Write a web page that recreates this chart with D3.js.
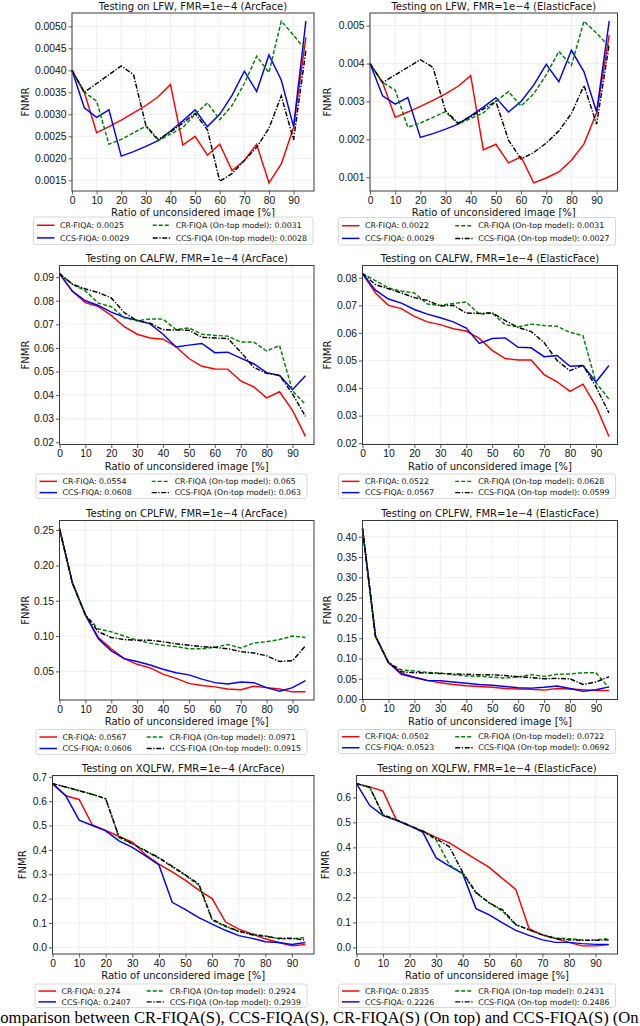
<!DOCTYPE html>
<html lang="en">
<head>
<meta charset="UTF-8">
<title>FNMR vs ratio of unconsidered images</title>
<script src="https://d3js.org/d3.v7.min.js"></script>
<style>
  html, body { margin: 0; padding: 0; background: #fff; overflow: hidden; }
  svg { display: block; font-family: "DejaVu Sans", sans-serif; }
  .grid line { stroke: #ebebeb; stroke-width: 0.8; }
  .frame { fill: none; stroke: #3a3a3a; stroke-width: 1; }
  .tick-label { font-size: 10.3px; fill: #111; }
  .title, .xlabel, .ylabel { font-size: 10px; fill: #111; }
  .legend-box { fill: #fff; fill-opacity: 0.8; stroke: #cfcfcf; stroke-width: 0.8; }
  .legend-text { font-size: 7.8px; fill: #111; }
  .caption { font-family: "Liberation Serif", "Times New Roman", serif; font-size: 16.6px; fill: #000; }
</style>
</head>
<body>
<svg id="chart" width="640" height="1026"></svg>
<script>
// --- data: ratio of unconsidered images [%] ---
const ratios = [0, 5, 10, 15, 20, 25, 30, 35, 40, 45, 50, 55, 60, 65, 70, 75, 80, 85, 90, 95];

// LFW, ArcFace
const lfwArcCR     = [0.0040, 0.0035, 0.00258, 0.00272, 0.00287, 0.00303, 0.0032, 0.0034, 0.00368, 0.0023, 0.0025, 0.00207, 0.00232, 0.00172, 0.00195, 0.00232, 0.00144, 0.00187, 0.0027, 0.00475];
const lfwArcCCS    = [0.0040, 0.00315, 0.00293, 0.0031, 0.00205, 0.00215, 0.00227, 0.0024, 0.00262, 0.00285, 0.0031, 0.00272, 0.0030, 0.00343, 0.00398, 0.00352, 0.00435, 0.00378, 0.00272, 0.00512];
const lfwArcCRTop  = [0.0040, 0.0035, 0.0033, 0.00232, 0.00243, 0.00258, 0.00273, 0.0024, 0.00255, 0.0027, 0.0030, 0.00326, 0.00288, 0.0032, 0.0037, 0.00432, 0.00395, 0.00512, 0.0048, 0.00445];
const lfwArcCCSTop = [0.0040, 0.0035, 0.0037, 0.0039, 0.0041, 0.0039, 0.00275, 0.00243, 0.0026, 0.0028, 0.00302, 0.00265, 0.00148, 0.00165, 0.00195, 0.00225, 0.00268, 0.00342, 0.00242, 0.00445];

// LFW, ElasticFace
const lfwElaCR     = [0.0040, 0.0035, 0.00258, 0.00272, 0.00287, 0.00303, 0.0032, 0.0034, 0.00368, 0.00172, 0.00187, 0.00138, 0.00154, 0.00085, 0.00098, 0.00114, 0.00145, 0.00188, 0.0027, 0.00475];
const lfwElaCCS    = [0.0040, 0.00315, 0.00293, 0.0031, 0.00205, 0.00215, 0.00227, 0.0024, 0.00262, 0.00285, 0.0031, 0.00272, 0.0030, 0.00343, 0.00398, 0.00352, 0.00435, 0.00378, 0.00272, 0.00512];
const lfwElaCRTop  = [0.0040, 0.0035, 0.0033, 0.00232, 0.00243, 0.00258, 0.00273, 0.0024, 0.00255, 0.0027, 0.0030, 0.00326, 0.00288, 0.0032, 0.0037, 0.00432, 0.00395, 0.00512, 0.0048, 0.00445];
const lfwElaCCSTop = [0.0040, 0.0035, 0.0037, 0.0039, 0.0041, 0.0039, 0.00275, 0.00243, 0.0026, 0.0028, 0.0030, 0.00198, 0.00148, 0.00165, 0.0019, 0.00222, 0.00268, 0.00342, 0.0024, 0.0045];

// CALFW, ArcFace
const calfwArcCR     = [0.0915, 0.084, 0.0792, 0.0775, 0.0738, 0.069, 0.0658, 0.0642, 0.0637, 0.0605, 0.0555, 0.0522, 0.0511, 0.051, 0.046, 0.0435, 0.0388, 0.0414, 0.0335, 0.0225];
const calfwArcCCS    = [0.0915, 0.084, 0.080, 0.078, 0.0752, 0.073, 0.0718, 0.0702, 0.0658, 0.0604, 0.0612, 0.0619, 0.058, 0.0582, 0.0557, 0.0533, 0.0495, 0.0483, 0.0423, 0.0482];
const calfwArcCRTop  = [0.0915, 0.087, 0.0842, 0.079, 0.0775, 0.0728, 0.0715, 0.0723, 0.0722, 0.0678, 0.0685, 0.0658, 0.0653, 0.065, 0.0625, 0.0625, 0.0587, 0.061, 0.0418, 0.036];
const calfwArcCCSTop = [0.0915, 0.087, 0.085, 0.0835, 0.0812, 0.075, 0.0715, 0.0705, 0.0677, 0.0676, 0.0675, 0.0645, 0.0642, 0.064, 0.0583, 0.0518, 0.0492, 0.0484, 0.0405, 0.031];

// CALFW, ElasticFace
const calfwElaCR     = [0.0815, 0.0745, 0.070, 0.0688, 0.066, 0.064, 0.063, 0.0615, 0.0607, 0.058, 0.0537, 0.0507, 0.0502, 0.0502, 0.0449, 0.0423, 0.0388, 0.0414, 0.0335, 0.0225];
const calfwElaCCS    = [0.0815, 0.0755, 0.0723, 0.0708, 0.0685, 0.0668, 0.0655, 0.064, 0.0618, 0.0562, 0.058, 0.0582, 0.0548, 0.0546, 0.0514, 0.0518, 0.0479, 0.0482, 0.0422, 0.0482];
const calfwElaCRTop  = [0.0815, 0.079, 0.0763, 0.0752, 0.0745, 0.0705, 0.070, 0.0707, 0.0712, 0.0668, 0.0672, 0.063, 0.0622, 0.0632, 0.0627, 0.0624, 0.0602, 0.059, 0.042, 0.036];
const calfwElaCCSTop = [0.0815, 0.0775, 0.076, 0.0745, 0.0728, 0.0718, 0.0698, 0.070, 0.0672, 0.0671, 0.0673, 0.0645, 0.062, 0.0605, 0.0565, 0.050, 0.0463, 0.0483, 0.0405, 0.031];

// CPLFW, ArcFace
const cplfwArcCR     = [0.252, 0.175, 0.130, 0.098, 0.082, 0.068, 0.060, 0.055, 0.046, 0.040, 0.033, 0.030, 0.028, 0.025, 0.024, 0.029, 0.027, 0.025, 0.021, 0.021];
const cplfwArcCCS    = [0.252, 0.175, 0.130, 0.096, 0.079, 0.068, 0.064, 0.059, 0.053, 0.048, 0.045, 0.039, 0.034, 0.032, 0.035, 0.034, 0.027, 0.022, 0.027, 0.037];
const cplfwArcCRTop  = [0.252, 0.175, 0.130, 0.110, 0.106, 0.100, 0.094, 0.090, 0.087, 0.085, 0.082, 0.082, 0.084, 0.088, 0.083, 0.090, 0.092, 0.095, 0.100, 0.098];
const cplfwArcCCSTop = [0.252, 0.175, 0.130, 0.106, 0.098, 0.095, 0.094, 0.094, 0.092, 0.089, 0.087, 0.085, 0.084, 0.082, 0.078, 0.076, 0.072, 0.064, 0.065, 0.086];

// CPLFW, ElasticFace
const cplfwElaCR     = [0.420, 0.155, 0.090, 0.064, 0.054, 0.046, 0.040, 0.036, 0.033, 0.031, 0.029, 0.026, 0.025, 0.024, 0.022, 0.026, 0.025, 0.023, 0.021, 0.021];
const cplfwElaCCS    = [0.420, 0.155, 0.090, 0.061, 0.053, 0.046, 0.045, 0.042, 0.039, 0.036, 0.034, 0.031, 0.028, 0.027, 0.029, 0.032, 0.026, 0.019, 0.023, 0.030];
const cplfwElaCRTop  = [0.420, 0.155, 0.090, 0.072, 0.069, 0.066, 0.064, 0.060, 0.057, 0.056, 0.054, 0.052, 0.055, 0.060, 0.056, 0.061, 0.062, 0.065, 0.065, 0.028];
const cplfwElaCCSTop = [0.420, 0.155, 0.090, 0.067, 0.065, 0.064, 0.063, 0.062, 0.061, 0.060, 0.060, 0.058, 0.055, 0.053, 0.050, 0.051, 0.050, 0.036, 0.042, 0.055];

// XQLFW, ArcFace
const xqlfwArcCR     = [0.672, 0.622, 0.607, 0.502, 0.480, 0.455, 0.432, 0.380, 0.342, 0.310, 0.275, 0.235, 0.200, 0.105, 0.075, 0.055, 0.035, 0.020, 0.006, 0.012];
const xqlfwArcCCS    = [0.672, 0.622, 0.522, 0.500, 0.478, 0.437, 0.410, 0.375, 0.338, 0.185, 0.155, 0.122, 0.095, 0.070, 0.048, 0.037, 0.023, 0.020, 0.012, 0.020];
const xqlfwArcCRTop  = [0.672, 0.658, 0.643, 0.628, 0.610, 0.450, 0.425, 0.395, 0.365, 0.330, 0.295, 0.255, 0.112, 0.085, 0.065, 0.055, 0.047, 0.035, 0.035, 0.040];
const xqlfwArcCCSTop = [0.672, 0.658, 0.643, 0.628, 0.610, 0.455, 0.425, 0.397, 0.368, 0.333, 0.297, 0.260, 0.115, 0.088, 0.066, 0.052, 0.045, 0.037, 0.037, 0.030];

// XQLFW, ElasticFace
const xqlfwElaCR     = [0.655, 0.642, 0.625, 0.510, 0.485, 0.465, 0.440, 0.418, 0.385, 0.352, 0.320, 0.275, 0.232, 0.075, 0.050, 0.035, 0.020, 0.006, 0.006, 0.010];
const xqlfwElaCCS    = [0.655, 0.567, 0.527, 0.508, 0.487, 0.460, 0.358, 0.325, 0.295, 0.155, 0.130, 0.098, 0.068, 0.048, 0.030, 0.020, 0.020, 0.015, 0.012, 0.012];
const xqlfwElaCRTop  = [0.655, 0.640, 0.530, 0.510, 0.487, 0.465, 0.430, 0.330, 0.295, 0.218, 0.178, 0.145, 0.090, 0.070, 0.050, 0.038, 0.035, 0.030, 0.030, 0.035];
const xqlfwElaCCSTop = [0.655, 0.640, 0.530, 0.510, 0.487, 0.465, 0.435, 0.402, 0.300, 0.220, 0.178, 0.150, 0.092, 0.070, 0.050, 0.035, 0.030, 0.028, 0.028, 0.030];

// legend scores, in order CR, CCS, CR (on-top), CCS (on-top)
const lfwArcScores   = ["0.0025", "0.0029", "0.0031", "0.0028"];
const lfwElaScores   = ["0.0022", "0.0029", "0.0031", "0.0027"];
const calfwArcScores = ["0.0554", "0.0608", "0.065", "0.063"];
const calfwElaScores = ["0.0522", "0.0567", "0.0628", "0.0599"];
const cplfwArcScores = ["0.0567", "0.0606", "0.0971", "0.0915"];
const cplfwElaScores = ["0.0502", "0.0523", "0.0722", "0.0692"];
const xqlfwArcScores = ["0.274", "0.2407", "0.2924", "0.2939"];
const xqlfwElaScores = ["0.2835", "0.2226", "0.2431", "0.2486"];

// tick labels
const xTicks = [0, 10, 20, 30, 40, 50, 60, 70, 80, 90];
const lfwArcTicks   = [0.0015, 0.0020, 0.0025, 0.0030, 0.0035, 0.0040, 0.0045, 0.0050];
const lfwElaTicks   = [0.001, 0.002, 0.003, 0.004, 0.005];
const calfwArcTicks = [0.02, 0.03, 0.04, 0.05, 0.06, 0.07, 0.08, 0.09];
const calfwElaTicks = [0.02, 0.03, 0.04, 0.05, 0.06, 0.07, 0.08];
const cplfwArcTicks = [0.05, 0.10, 0.15, 0.20, 0.25];
const cplfwElaTicks = [0.00, 0.05, 0.10, 0.15, 0.20, 0.25, 0.30, 0.35, 0.40];
const xqlfwArcTicks = [0.0, 0.1, 0.2, 0.3, 0.4, 0.5, 0.6, 0.7];
const xqlfwElaTicks = [0.0, 0.1, 0.2, 0.3, 0.4, 0.5, 0.6];

const methodNames = ["CR-FIQA", "CCS-FIQA", "CR-FIQA (On-top model)", "CCS-FIQA (On-top model)"];

// --- styles of the four methods ---
const styles = [
  { color: "#ff0000", dash: null },
  { color: "#0000ff", dash: null },
  { color: "#008000", dash: "4,2" },
  { color: "#000000", dash: "5,1.6,1.3,1.6" }
];

// --- panels: plot rect [left, top, right, bottom], legend box, y-label x ---
const panels = [
  { title: "Testing on LFW, FMR=1e\u22124 (ArcFace)", series: [lfwArcCR, lfwArcCCS, lfwArcCRTop, lfwArcCCSTop],
    scores: lfwArcScores, ticks: lfwArcTicks, fmt: ".4f", rect: [72, 13, 314, 191], legend: [33.5, 217, 313, 244.5], ylx: 25 },
  { title: "Testing on LFW, FMR=1e\u22124 (ElasticFace)", series: [lfwElaCR, lfwElaCCS, lfwElaCRTop, lfwElaCCSTop],
    scores: lfwElaScores, ticks: lfwElaTicks, fmt: ".3f", rect: [370, 13, 617.5, 191], legend: [338.5, 217.5, 615.5, 245], ylx: 327 },
  { title: "Testing on CALFW, FMR=1e\u22124 (ArcFace)", series: [calfwArcCR, calfwArcCCS, calfwArcCRTop, calfwArcCCSTop],
    scores: calfwArcScores, ticks: calfwArcTicks, fmt: ".2f", rect: [59.5, 265.5, 314, 444.5], legend: [36, 474, 307, 498.5], ylx: 25 },
  { title: "Testing on CALFW, FMR=1e\u22124 (ElasticFace)", series: [calfwElaCR, calfwElaCCS, calfwElaCRTop, calfwElaCCSTop],
    scores: calfwElaScores, ticks: calfwElaTicks, fmt: ".2f", rect: [362.5, 265.5, 617.5, 444.5], legend: [338.5, 474, 615.5, 498.5], ylx: 327 },
  { title: "Testing on CPLFW, FMR=1e\u22124 (ArcFace)", series: [cplfwArcCR, cplfwArcCCS, cplfwArcCRTop, cplfwArcCCSTop],
    scores: cplfwArcScores, ticks: cplfwArcTicks, fmt: ".2f", rect: [59.5, 520.5, 314, 700], legend: [36, 729.5, 307, 754.5], ylx: 25 },
  { title: "Testing on CPLFW, FMR=1e\u22124 (ElasticFace)", series: [cplfwElaCR, cplfwElaCCS, cplfwElaCRTop, cplfwElaCCSTop],
    scores: cplfwElaScores, ticks: cplfwElaTicks, fmt: ".2f", rect: [362.5, 520.5, 617.5, 699.5], legend: [338.5, 729.5, 615.5, 753.5], ylx: 327 },
  { title: "Testing on XQLFW, FMR=1e\u22124 (ArcFace)", series: [xqlfwArcCR, xqlfwArcCCS, xqlfwArcCRTop, xqlfwArcCCSTop],
    scores: xqlfwArcScores, ticks: xqlfwArcTicks, fmt: ".1f", rect: [52.5, 775.5, 314, 954], legend: [35, 984, 307, 1007.5], ylx: 22 },
  { title: "Testing on XQLFW, FMR=1e\u22124 (ElasticFace)", series: [xqlfwElaCR, xqlfwElaCCS, xqlfwElaCRTop, xqlfwElaCCSTop],
    scores: xqlfwElaScores, ticks: xqlfwElaTicks, fmt: ".1f", rect: [356.5, 775.5, 617.5, 954], legend: [338.5, 984, 615.5, 1007.5], ylx: 325 }
];

const svg = d3.select("#chart");

panels.forEach(p => {
  const [x0, y0, x1, y1] = p.rect;
  const g = svg.append("g");

  // matplotlib-like autoscale: 5% margin on y, x starts at 0
  const all = p.series.flat();
  const [lo, hi] = d3.extent(all);
  const pad = (hi - lo) * 0.05;
  const x = d3.scaleLinear().domain([0, 98.3]).range([x0, x1]);
  const y = d3.scaleLinear().domain([lo - pad, hi + pad]).range([y1, y0]);

  // grid
  const grid = g.append("g").attr("class", "grid");
  grid.selectAll("line.gx").data(xTicks).join("line").attr("class", "gx")
    .attr("x1", d => x(d)).attr("x2", d => x(d)).attr("y1", y0).attr("y2", y1);
  grid.selectAll("line.gy").data(p.ticks).join("line").attr("class", "gy")
    .attr("x1", x0).attr("x2", x1).attr("y1", d => y(d)).attr("y2", d => y(d));

  // lines
  const line = d3.line().x((d, i) => x(ratios[i])).y(d => y(d));
  p.series.forEach((s, k) => {
    g.append("path").datum(s)
      .attr("d", line)
      .attr("fill", "none")
      .attr("stroke", styles[k].color)
      .attr("stroke-width", 1.45)
      .attr("stroke-dasharray", styles[k].dash);
  });

  // axes
  const xAxis = d3.axisBottom(x).tickValues(xTicks).tickSize(3.5).tickPadding(2);
  const yAxis = d3.axisLeft(y).tickValues(p.ticks).tickSize(3.5).tickPadding(2).tickFormat(d3.format(p.fmt));
  const gx = g.append("g").attr("transform", `translate(0,${y1})`).call(xAxis);
  const gy = g.append("g").attr("transform", `translate(${x0},0)`).call(yAxis);
  [gx, gy].forEach(a => {
    a.select(".domain").remove();
    a.selectAll(".tick line").attr("stroke", "#333").attr("stroke-width", 0.8);
    a.selectAll(".tick text").attr("class", "tick-label").attr("font-family", null).attr("font-size", null);
  });

  g.append("rect").attr("class", "frame")
    .attr("x", x0).attr("y", y0).attr("width", x1 - x0).attr("height", y1 - y0);

  // title & labels
  g.append("text").attr("class", "title").attr("text-anchor", "middle")
    .attr("x", (x0 + x1) / 2).attr("y", y0 - 3.5).text(p.title);
  g.append("text").attr("class", "xlabel").attr("text-anchor", "middle")
    .attr("x", (x0 + x1) / 2).attr("y", y1 + 25).text("Ratio of unconsidered image [%]");
  g.append("text").attr("class", "ylabel").attr("text-anchor", "middle")
    .attr("transform", `translate(${p.ylx + 3.5},${(y0 + y1) / 2}) rotate(-90)`).text("FNMR");

  // legend, two columns, expanded to its box
  const [lx0, ly0, lx1, ly1] = p.legend;
  const lg = g.append("g");
  lg.append("rect").attr("class", "legend-box")
    .attr("x", lx0).attr("y", ly0).attr("width", lx1 - lx0).attr("height", ly1 - ly0).attr("rx", 2);
  const rowY = [ly0 + (ly1 - ly0) * 0.3, ly0 + (ly1 - ly0) * 0.76];
  const items = methodNames.map((n, k) => ({ k, label: `${n}: ${p.scores[k]}` }));

  // measure second column width so it ends near the right edge
  const col2 = items.slice(2).map(it => {
    const t = lg.append("text").attr("class", "legend-text").text(it.label);
    const w = t.node().getComputedTextLength();
    t.remove();
    return w;
  });
  const col2w = d3.max(col2);
  const lineLen = 17.5, gap = 5.5;
  const colX = [lx0 + 3.5, lx1 - 6 - col2w - gap - lineLen];

  items.forEach(it => {
    const cx = colX[Math.floor(it.k / 2)];
    const cy = rowY[it.k % 2];
    lg.append("line")
      .attr("x1", cx).attr("x2", cx + lineLen).attr("y1", cy).attr("y2", cy)
      .attr("stroke", styles[it.k].color).attr("stroke-width", 1.45)
      .attr("stroke-dasharray", styles[it.k].dash);
    lg.append("text").attr("class", "legend-text")
      .attr("x", cx + lineLen + gap).attr("y", cy).attr("dy", "0.35em").text(it.label);
  });
});

// cropped caption of the figure (it runs past both page edges in the source)
svg.append("text").attr("class", "caption")
  .attr("x", -10.8).attr("y", 1023)
  .text("Comparison between CR-FIQA(S), CCS-FIQA(S), CR-FIQA(S) (On top) and CCS-FIQA(S) (On");
</script>
</body>
</html>
